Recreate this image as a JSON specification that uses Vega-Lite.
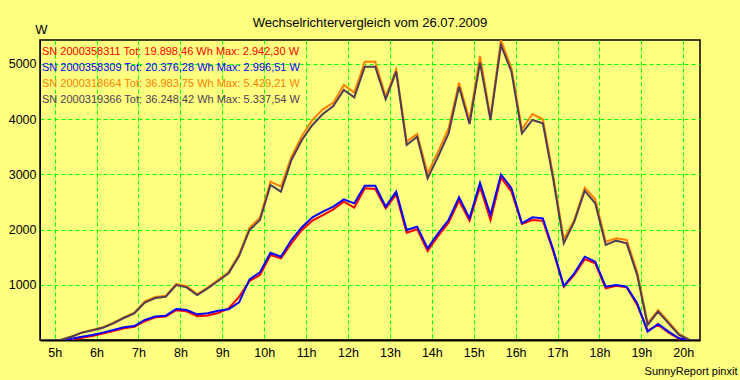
{
  "$schema": "https://vega.github.io/schema/vega-lite/v6.json",
  "autosize": {"type": "none"},
  "padding": {"left": 40, "top": 40, "right": 40, "bottom": 40},
  "width": 660,
  "height": 300,
  "background": "#FFFF80",
  "title": {"text": "Wechselrichtervergleich vom 26.07.2009", "anchor": "middle", "font": "Liberation Sans", "fontSize": 13, "fontWeight": "normal", "color": "#000000", "offset": 8, "dy": 15},
  "data": {"values": [
    {"t": 4.65, "R": 0, "B": 0, "O": 0, "D": 0},
    {"t": 4.9, "R": 0, "B": 0, "O": 0, "D": 0},
    {"t": 5.15, "R": 0, "B": 0, "O": 0, "D": 0},
    {"t": 5.4, "R": 10, "B": 24, "O": 62, "D": 60},
    {"t": 5.65, "R": 40, "B": 60, "O": 138, "D": 133},
    {"t": 5.9, "R": 72, "B": 90, "O": 182, "D": 175},
    {"t": 6.15, "R": 115, "B": 133, "O": 230, "D": 223},
    {"t": 6.4, "R": 163, "B": 181, "O": 312, "D": 302},
    {"t": 6.65, "R": 211, "B": 229, "O": 410, "D": 398},
    {"t": 6.9, "R": 241, "B": 253, "O": 495, "D": 483},
    {"t": 7.15, "R": 340, "B": 362, "O": 700, "D": 676},
    {"t": 7.4, "R": 410, "B": 425, "O": 778, "D": 760},
    {"t": 7.65, "R": 425, "B": 440, "O": 800, "D": 784},
    {"t": 7.9, "R": 540, "B": 561, "O": 1015, "D": 995},
    {"t": 8.15, "R": 520, "B": 543, "O": 975, "D": 953},
    {"t": 8.4, "R": 432, "B": 465, "O": 830, "D": 815},
    {"t": 8.65, "R": 445, "B": 483, "O": 950, "D": 935},
    {"t": 8.9, "R": 490, "B": 530, "O": 1090, "D": 1068},
    {"t": 9.15, "R": 570, "B": 555, "O": 1230, "D": 1207},
    {"t": 9.4, "R": 780, "B": 680, "O": 1550, "D": 1520},
    {"t": 9.65, "R": 1070, "B": 1098, "O": 2030, "D": 1991},
    {"t": 9.9, "R": 1177, "B": 1225, "O": 2220, "D": 2172},
    {"t": 10.15, "R": 1538, "B": 1580, "O": 2866, "D": 2806},
    {"t": 10.4, "R": 1478, "B": 1508, "O": 2775, "D": 2685},
    {"t": 10.65, "R": 1750, "B": 1810, "O": 3318, "D": 3258},
    {"t": 10.9, "R": 1991, "B": 2040, "O": 3692, "D": 3620},
    {"t": 11.15, "R": 2160, "B": 2220, "O": 3982, "D": 3892},
    {"t": 11.4, "R": 2262, "B": 2323, "O": 4175, "D": 4090},
    {"t": 11.65, "R": 2365, "B": 2413, "O": 4295, "D": 4235},
    {"t": 11.9, "R": 2504, "B": 2546, "O": 4615, "D": 4525},
    {"t": 12.15, "R": 2395, "B": 2474, "O": 4477, "D": 4392},
    {"t": 12.4, "R": 2745, "B": 2793, "O": 5038, "D": 4947},
    {"t": 12.65, "R": 2733, "B": 2793, "O": 5038, "D": 4947},
    {"t": 12.9, "R": 2383, "B": 2413, "O": 4404, "D": 4356},
    {"t": 13.15, "R": 2636, "B": 2685, "O": 4899, "D": 4857},
    {"t": 13.4, "R": 1943, "B": 1991, "O": 3590, "D": 3530},
    {"t": 13.65, "R": 2003, "B": 2051, "O": 3728, "D": 3680},
    {"t": 13.9, "R": 1611, "B": 1659, "O": 3017, "D": 2926},
    {"t": 14.15, "R": 1882, "B": 1931, "O": 3409, "D": 3318},
    {"t": 14.4, "R": 2124, "B": 2172, "O": 3831, "D": 3741},
    {"t": 14.65, "R": 2522, "B": 2583, "O": 4657, "D": 4585},
    {"t": 14.9, "R": 2160, "B": 2202, "O": 3982, "D": 3910},
    {"t": 15.15, "R": 2775, "B": 2842, "O": 5140, "D": 5020},
    {"t": 15.4, "R": 2172, "B": 2262, "O": 4030, "D": 3982},
    {"t": 15.65, "R": 2942.3, "B": 2996.51, "O": 5429.21, "D": 5337.54},
    {"t": 15.9, "R": 2685, "B": 2746, "O": 4917, "D": 4857},
    {"t": 16.15, "R": 2100, "B": 2112, "O": 3813, "D": 3741},
    {"t": 16.4, "R": 2172, "B": 2220, "O": 4090, "D": 3982},
    {"t": 16.65, "R": 2160, "B": 2202, "O": 3995, "D": 3922},
    {"t": 16.9, "R": 1599, "B": 1629, "O": 2960, "D": 2900},
    {"t": 17.15, "R": 965, "B": 977, "O": 1822, "D": 1750},
    {"t": 17.4, "R": 1177, "B": 1207, "O": 2172, "D": 2142},
    {"t": 17.65, "R": 1463, "B": 1508, "O": 2757, "D": 2703},
    {"t": 17.9, "R": 1388, "B": 1418, "O": 2546, "D": 2474},
    {"t": 18.15, "R": 935, "B": 965, "O": 1780, "D": 1720},
    {"t": 18.4, "R": 983, "B": 995, "O": 1840, "D": 1798},
    {"t": 18.65, "R": 953, "B": 965, "O": 1810, "D": 1750},
    {"t": 18.9, "R": 634, "B": 664, "O": 1237, "D": 1177},
    {"t": 19.15, "R": 169, "B": 151, "O": 302, "D": 272},
    {"t": 19.4, "R": 272, "B": 290, "O": 543, "D": 513},
    {"t": 19.65, "R": 133, "B": 151, "O": 332, "D": 302},
    {"t": 19.9, "R": 24, "B": 30, "O": 109, "D": 90},
    {"t": 20.15, "R": 0, "B": 0, "O": 0, "D": 0},
    {"t": 20.4, "R": 0, "B": 0, "O": 0, "D": 0}
  ]},
  "transform": [{"fold": ["R", "B", "O", "D"], "as": ["s", "w"]}],
  "mark": {"type": "line", "strokeWidth": 2, "interpolate": "linear", "clip": true},
  "encoding": {
    "x": {
      "field": "t", "type": "quantitative",
      "scale": {"domain": [4.65, 20.4], "nice": false, "zero": false},
      "axis": {
        "values": [5, 6, 7, 8, 9, 10, 11, 12, 13, 14, 15, 16, 17, 18, 19, 20],
        "labelExpr": "datum.value + 'h'",
        "ticks": false, "labelPadding": 6,
        "grid": true, "gridColor": "#00FF00", "gridDash": [4, 3], "gridWidth": 1, "gridOpacity": 1,
        "domainColor": "#000000", "domainWidth": 2,
        "labelFont": "Liberation Sans", "labelFontSize": 12.5, "labelColor": "#000000", "labelFlush": false, "labelOverlap": false,
        "title": "SunnyReport pinxit", "titleFont": "Liberation Sans", "titleFontSize": 11, "titleFontWeight": "normal", "titleColor": "#000000",
        "titleAnchor": "end", "titleAlign": "right", "titleBaseline": "middle", "titleX": 697, "titleY": 31
      }
    },
    "y": {
      "field": "w", "type": "quantitative",
      "scale": {"domain": [0, 5430], "nice": false},
      "axis": {
        "values": [1000, 2000, 3000, 4000, 5000],
        "format": "d",
        "ticks": false, "labelPadding": 4,
        "grid": true, "gridColor": "#00FF00", "gridDash": [4, 3], "gridWidth": 1, "gridOpacity": 1,
        "domainColor": "#000000", "domainWidth": 1,
        "labelFont": "Liberation Sans", "labelFontSize": 12.5, "labelColor": "#000000", "labelOverlap": false, "labelFlush": false,
        "title": "W", "titleAngle": 0, "titleFont": "Liberation Sans", "titleFontSize": 13, "titleFontWeight": "normal", "titleColor": "#000000",
        "titleAlign": "center", "titleBaseline": "middle", "titleX": 1, "titleY": -11
      }
    },
    "color": {
      "field": "s", "type": "nominal",
      "scale": {"domain": ["R", "B", "O", "D"], "range": ["#FF0000", "#0000FF", "#FF8000", "#503C55"]},
      "legend": {
        "title": null, "orient": "none", "legendX": -9, "legendY": 6, "padding": 0, "rowPadding": 4,
        "symbolSize": 0, "symbolOpacity": 0, "symbolStrokeWidth": 0, "labelOffset": 0,
        "labelFont": "Liberation Sans", "labelFontSize": 11, "labelLimit": 600,
        "labelExpr": "datum.value == 'R' ? 'SN 2000358311 Tot: 19.898,46 Wh Max: 2.942,30 W' : datum.value == 'B' ? 'SN 2000358309 Tot: 20.376,28 Wh Max: 2.996,51 W' : datum.value == 'O' ? 'SN 2000318664 Tot: 36.983,75 Wh Max: 5.429,21 W' : 'SN 2000319366 Tot: 36.248,42 Wh Max: 5.337,54 W'",
        "encode": {"labels": {"update": {"fill": {"scale": "color", "field": "value"}}}}
      }
    }
  },
  "config": {
    "font": "Liberation Sans",
    "view": {"stroke": "#000000", "strokeWidth": 1.5, "fill": "#FFFF80"}
  }
}
